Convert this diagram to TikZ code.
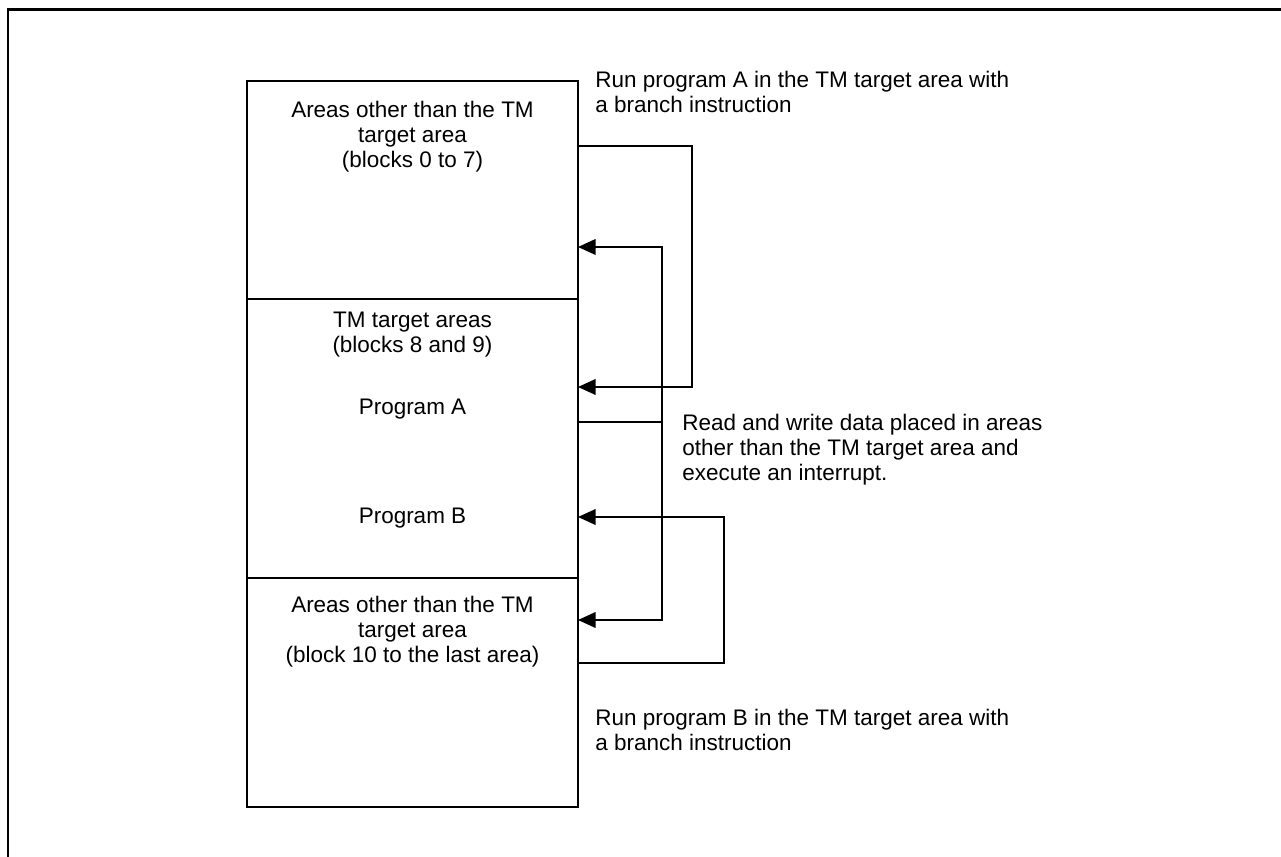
\documentclass[tikz,border=0pt]{standalone}
\usepackage{fontspec}
\setmainfont{Liberation Sans}
\usetikzlibrary{arrows.meta,positioning}
\tikzset{
base/.style={draw=black, line width=1.1pt, inner sep=0pt, outer sep=0pt},
block/.style={base, minimum width=6.62cm},
areatext/.style={align=center, inner sep=0pt, font=\fontsize{12.8}{14.2}\selectfont},
note/.style={align=left, anchor=west, inner sep=0pt, font=\fontsize{12.8}{14.2}\selectfont},
link/.style={line width=1pt, draw=black},
arrow/.style={-{Triangle[length=3.5mm,width=3.1mm]}, line width=1pt, draw=black},
frame/.style={line width=1.7pt, draw=black}
}
\begin{document}
\begin{tikzpicture}[x=0.02cm, y=-0.02cm]
\useasboundingbox (0,0) rectangle (1281,857);
\draw[frame] (8,857) -- (8,10) -- (1281,10);
\node[block, anchor=north west, minimum height=4.36cm] (upper) at (247,81) {};
\node[block, minimum height=5.58cm, below=0pt of upper] (middle) {};
\node[block, minimum height=4.58cm, below=0pt of middle] (lower) {};
\node[areatext] (upperlbl) at (412.5,137) {Areas other than the TM\\target area\\(blocks 0 to 7)};
\node[areatext] (middlelbl) at (412.5,335) {TM target areas\\(blocks 8 and 9)};
\node[areatext] (proga) at (412.5,409) {Program A};
\node[areatext] (progb) at (412.5,518) {Program B};
\node[areatext] (lowerlbl) at (412.5,632) {Areas other than the TM\\target area\\(block 10 to the last area)};
\node[note] (runa) at (595,92) {Run program A in the TM target area with\\a branch instruction};
\node[note] (rw) at (682,450) {Read and write data placed in areas\\other than the TM target area and\\execute an interrupt.};
\node[note] (runb) at (595,730) {Run program B in the TM target area with\\a branch instruction};
\coordinate (aout) at (578,146);
\coordinate (ain) at (578,387);
\coordinate (rwout) at (578,422);
\coordinate (rwin1) at (578,247);
\coordinate (rwin2) at (578,620);
\coordinate (bout) at (578,663);
\coordinate (bin) at (578,517);
\draw[arrow] (aout) -- ++(114,0) |- (ain);
\draw[link] (rwout) -- ++(84,0) coordinate (rwsplit);
\draw[arrow] (rwsplit) |- (rwin1);
\draw[arrow] (rwsplit) |- (rwin2);
\draw[arrow] (bout) -- ++(146,0) |- (bin);
\end{tikzpicture}
\end{document}
